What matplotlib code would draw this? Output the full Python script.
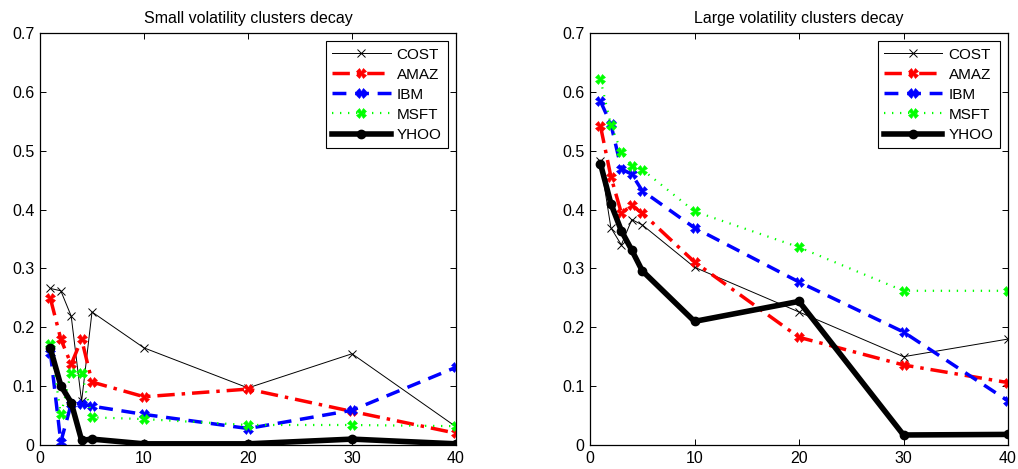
import matplotlib
matplotlib.use("Agg")
import matplotlib.pyplot as plt

plt.rcParams['font.family'] = ['Liberation Sans', 'DejaVu Sans']

lags = [1, 2, 3, 4, 5, 10, 20, 30, 40]
series_names = ["COST", "AMAZ", "IBM", "MSFT", "YHOO"]

small_cost = [0.266, 0.262, 0.219, 0.074, 0.226, 0.165, 0.097, 0.155, 0.031]
small_amaz = [0.249, 0.180, 0.137, 0.180, 0.107, 0.082, 0.095, 0.057, 0.020]
small_ibm  = [0.157, 0.005, 0.070, 0.070, 0.066, 0.052, 0.028, 0.059, 0.132]
small_msft = [0.172, 0.052, 0.123, 0.123, 0.047, 0.044, 0.034, 0.034, 0.032]
small_yhoo = [0.164, 0.101, 0.072, 0.008, 0.010, 0.002, 0.002, 0.010, 0.002]

large_cost = [0.482, 0.369, 0.340, 0.383, 0.374, 0.302, 0.226, 0.150, 0.180]
large_amaz = [0.542, 0.456, 0.394, 0.407, 0.394, 0.311, 0.183, 0.136, 0.106]
large_ibm  = [0.584, 0.545, 0.469, 0.460, 0.432, 0.369, 0.277, 0.192, 0.075]
large_msft = [0.621, 0.544, 0.498, 0.474, 0.468, 0.397, 0.336, 0.262, 0.262]
large_yhoo = [0.478, 0.410, 0.364, 0.331, 0.296, 0.210, 0.244, 0.017, 0.018]

titles = ["Small volatility clusters decay", "Large volatility clusters decay"]

styles = [
    dict(color='black', linestyle='-', linewidth=0.7, marker='x', markersize=5.5, markeredgewidth=0.7),
    dict(color='red', linestyle=(0, (5, 2, 1, 2)), linewidth=2.5, marker='X', markersize=6.5, markeredgewidth=0.4),
    dict(color='blue', linestyle=(0, (4, 2.5)), linewidth=2.5, marker='X', markersize=6.5, markeredgewidth=0.4),
    dict(color='#00ff00', linestyle=(0, (0.6, 3)), linewidth=1.6, marker='X', markersize=6.5, markeredgewidth=0.4),
    dict(color='black', linestyle='-', linewidth=4.0, marker='o', markersize=6),
]

fig = plt.figure(figsize=(10.18, 4.69), dpi=100)
axes = [fig.add_axes([40/1018, 24/469, 416/1018, 412/469]),
        fig.add_axes([590/1018, 24/469, 418/1018, 412/469])]

datasets = [[small_cost, small_amaz, small_ibm, small_msft, small_yhoo],
            [large_cost, large_amaz, large_ibm, large_msft, large_yhoo]]

for ax, data, title in zip(axes, datasets, titles):
    for name, vals, st in zip(series_names, data, styles):
        ax.plot(lags, vals, label=name, **st)
    ax.set_xlim(0, 40)
    ax.set_ylim(0, 0.7)
    ax.set_xticks([0, 10, 20, 30, 40])
    ax.set_yticks([0, 0.1, 0.2, 0.3, 0.4, 0.5, 0.6, 0.7])
    ax.set_yticklabels(["0", "0.1", "0.2", "0.3", "0.4", "0.5", "0.6", "0.7"])
    ax.tick_params(direction='in', top=True, right=True, labelsize=11.5, length=4, width=0.7, pad=4)
    for s in ax.spines.values():
        s.set_linewidth(0.9)
    ax.set_title(title, fontsize=11.5, pad=7)
    leg = ax.legend(loc='upper right', fontsize=11, handlelength=3.8, fancybox=False,
                    edgecolor='black', framealpha=1, borderaxespad=0.55,
                    labelspacing=0.4, handletextpad=0.4, borderpad=0.4)
    leg.get_frame().set_linewidth(0.8)

fig.savefig("out.png", dpi=100)
